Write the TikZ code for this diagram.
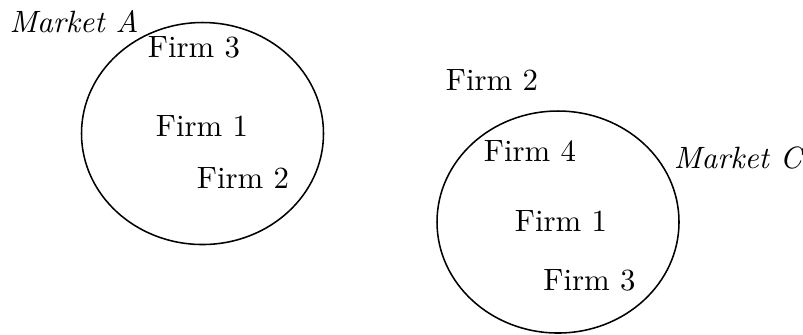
\documentclass[tikz,border=0pt]{standalone}
\usetikzlibrary{shapes.geometric}
\begin{document}
\begin{tikzpicture}[x=0.3245pt,y=-0.3245pt,
  market/.style={draw,line width=0.5pt,ellipse,inner sep=0pt,
    minimum width=242*0.3245pt,minimum height=222*0.3245pt},
  firm/.style={inner sep=0pt,anchor=base,font=\normalsize},
  mlabel/.style={inner sep=0pt,anchor=base,font=\itshape}]
\useasboundingbox (0,0) rectangle (803,334);
% market A
\node[market] (mA) at (202.5,133.5) {};
\node[mlabel] (lA) at (74,32) {Market A};
\node[firm] (a3) at (194,57) {Firm 3};
\node[firm] (a1) at (202,136) {Firm 1};
\node[firm] (a2) at (243,188) {Firm 2};
% market C
\node[market] (mC) at (558,222) {};
\node[mlabel] (lC) at (738,168) {Market C};
\node[firm] (c2) at (492,90) {Firm 2};
\node[firm] (c4) at (530,161) {Firm 4};
\node[firm] (c1) at (561,231) {Firm 1};
\node[firm] (c3) at (589.5,290) {Firm 3};
\end{tikzpicture}
\end{document}
